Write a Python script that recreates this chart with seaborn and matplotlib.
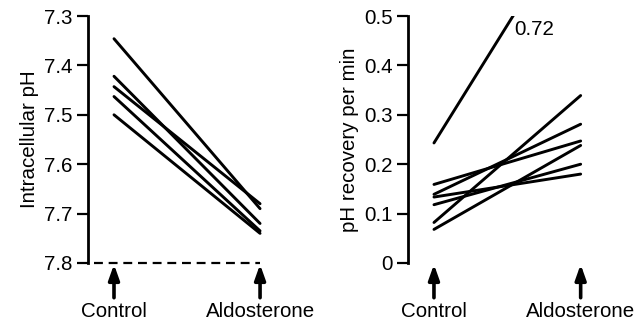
import matplotlib
matplotlib.use("Agg")
import matplotlib.pyplot as plt
import seaborn as sns
import pandas as pd

# ---- data ----
conditions = ["Control", "Aldosterone"]
ph_control = [7.346, 7.443, 7.422, 7.463, 7.500]
ph_aldo = [7.690, 7.680, 7.720, 7.735, 7.740]
rec_control = [0.243, 0.159, 0.139, 0.1335, 0.118, 0.082, 0.068]
rec_aldo = [0.72, 0.247, 0.281, 0.180, 0.200, 0.339, 0.238]
ph_ticks = [7.3, 7.4, 7.5, 7.6, 7.7, 7.8]
ph_ticklabels = ["7.3", "7.4", "7.5", "7.6", "7.7", "7.8"]
rec_ticks = [0, 0.1, 0.2, 0.3, 0.4, 0.5]
rec_ticklabels = ["0", "0.1", "0.2", "0.3", "0.4", "0.5"]
outlier_label = "0.72"


def long_df(ctrl, aldo):
    rows = []
    for i, (a, b) in enumerate(zip(ctrl, aldo)):
        rows.append({"unit": i, "x": 0, "y": a})
        rows.append({"unit": i, "x": 1, "y": b})
    return pd.DataFrame(rows)


sns.set_style("ticks", {"axes.edgecolor": "black", "text.color": "black",
                        "axes.labelcolor": "black", "xtick.color": "black",
                        "ytick.color": "black"})
plt.rcParams["font.family"] = ["Liberation Sans", "DejaVu Sans"]
FS = 14.8

W, H = 642, 324
fig = plt.figure(figsize=(W / 100, H / 100), dpi=100)

ax1 = fig.add_axes([88 / W, 61 / H, 202 / W, 247 / H])
ax2 = fig.add_axes([408 / W, 61 / H, 202 / W, 247 / H])

LW = 2.1
SPW = 2.0

# Left panel
df1 = long_df(ph_control, ph_aldo)
sns.lineplot(data=df1, x="x", y="y", units="unit", estimator=None,
             color="black", linewidth=LW, ax=ax1, legend=False)
ax1.set_xlim(-0.178, 1.205)
ax1.set_ylim(7.8, 7.3)
ax1.set_yticks(ph_ticks)
ax1.set_yticklabels(ph_ticklabels)
ax1.set_ylabel("Intracellular pH", fontsize=FS, labelpad=4, color="black")
ax1.plot([-0.14, 1.0], [7.8, 7.8], color="black", linewidth=1.6,
         dashes=(4, 2.6), clip_on=False)

# Right panel
df2 = long_df(rec_control, rec_aldo)
sns.lineplot(data=df2, x="x", y="y", units="unit", estimator=None,
             color="black", linewidth=LW, ax=ax2, legend=False)
ax2.set_xlim(-0.177, 1.2)
ax2.set_ylim(0, 0.5)
ax2.set_yticks(rec_ticks)
ax2.set_yticklabels(rec_ticklabels)
ax2.set_ylabel("pH recovery per min", fontsize=FS, labelpad=4, color="black")
ax2.text(0.545, 0.472, outlier_label, fontsize=FS, ha="left", va="center",
         color="black")

for ax in (ax1, ax2):
    sns.despine(ax=ax, top=True, right=True, bottom=True)
    ax.spines["left"].set_linewidth(SPW)
    ax.spines["left"].set_color("black")
    ax.tick_params(axis="y", direction="out", length=8, width=1.6,
                   pad=3, labelsize=FS, color="black", labelcolor="black")
    ax.set_xticks([0, 1])
    ax.set_xticklabels(conditions, fontsize=FS)
    ax.tick_params(axis="x", length=0, pad=28, labelcolor="black")
    ax.set_xlabel("")
    for xv in (0, 1):
        ax.annotate("", xy=(xv, 0), xycoords=("data", "axes fraction"),
                    xytext=(0, -25), textcoords="offset points",
                    annotation_clip=False,
                    arrowprops=dict(arrowstyle="-|>,head_length=0.9,head_width=0.32",
                                    color="black", lw=2.6,
                                    shrinkA=0, shrinkB=1))

fig.savefig("out.png", dpi=100)
